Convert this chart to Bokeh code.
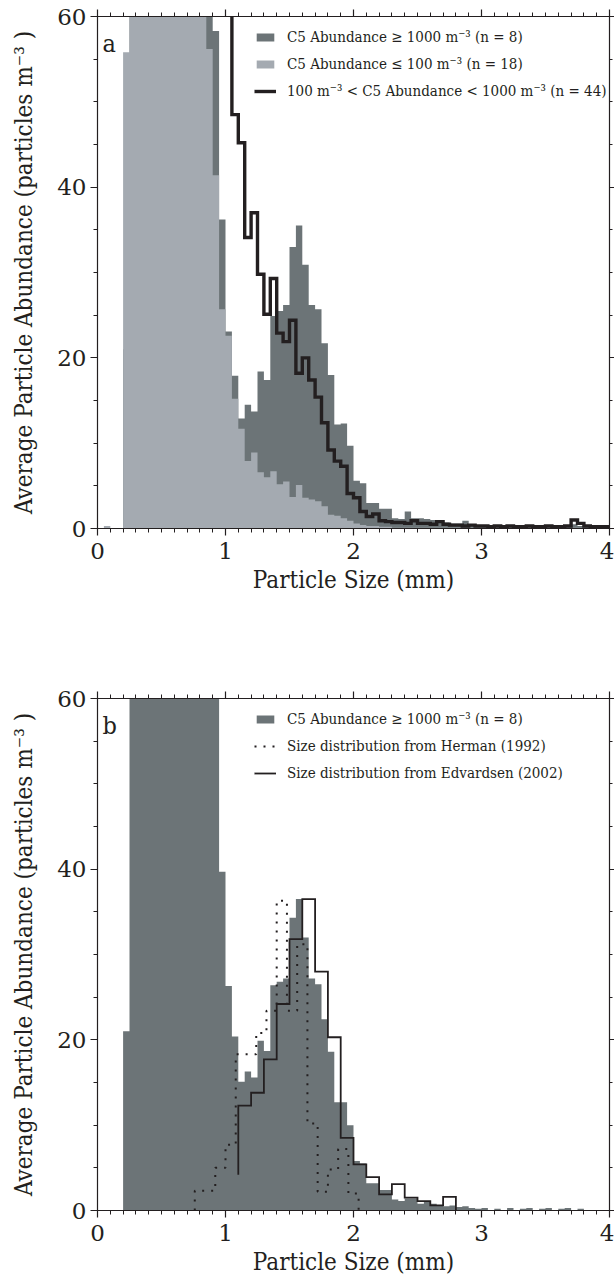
import numpy as np
from bokeh.plotting import figure
from bokeh.models import Range1d, LinearAxis, SingleIntervalTicker, Legend, LegendItem, Label
from bokeh.layouts import column
from bokeh.embed import file_html
from bokeh.resources import INLINE

# ---------------- data ----------------
bin_left = np.round(np.arange(0.0, 4.0, 0.05), 2)   # 80 size classes, 0.05 mm wide
bin_width = 0.05

# panel a : C5 >= 1000 (dark), C5 <= 100 (light), 100 < C5 < 1000 (black step line)
dark_a = [0, 0, 0, 0, 21, 80, 105, 120, 128, 130, 126, 118, 108, 98, 88, 80, 72, 64,
          58.3, 36.2, 23.1, 17.9, 12.9, 14.5, 13.7, 18.4, 17.4, 24.9, 25.5, 26.2,
          33.0, 35.5, 30.9, 26.2, 25.7, 21.7, 18.0, 12.2, 12.3, 9.7,
          5.6, 5.3, 3.0, 3.0, 2.3, 2.3, 1.2, 1.1, 2.0, 1.2,
          1.2, 1.1, 1.0, 1.0, 0.7, 0.6, 0.6, 0.9, 0.4, 0.4,
          0.3, 0.3, 0.2, 0.3, 0.2, 0.2, 0.3, 0.2, 0.2, 0.2,
          0.3, 0.2, 0.2, 0.2, 0.5, 0.3, 0.2, 0.2, 0.1, 0.1]
light_a = [0, 0.3, 0, 0, 55.8, 68, 80, 90, 96, 98, 97, 94, 90, 85, 80, 74, 66, 56.2,
           41.4, 25.7, 22.6, 15.2, 11.7, 7.9, 8.9, 6.6, 6.0, 6.7, 5.2, 5.5,
           3.7, 5.1, 3.6, 3.4, 3.2, 2.6, 1.6, 1.5, 1.2, 0.9,
           0.6, 0.4, 0.3, 0.3, 0.2, 0.2, 0.1, 0.1, 0.1, 0.1,
           0.1, 0.1, 0.1, 0.1, 0.1, 0.1, 0.1, 0.1, 0.1, 0.1,
           0.1, 0.1, 0.1, 0.1, 0.1, 0.1, 0.1, 0.1, 0.1, 0.1,
           0.1, 0.1, 0.1, 0.1, 0.1, 0.1, 0.1, 0.1, 0.1, 0.1]
nan = float("nan")
mid_a = [nan, nan, nan, nan, 70, 85, 100, 110, 115, 118, 116, 112, 106, 100, 94, 88, 82, 76,
         71, 67, 63, 48.5, 45.2, 34.1, 37.0, 29.8, 25.1, 29.3, 22.9, 21.9,
         24.4, 18.2, 20.0, 17.4, 15.4, 12.4, 9.2, 7.9, 7.3, 4.1,
         3.6, 2.0, 1.4, 1.7, 0.9, 0.8, 0.7, 0.7, 0.6, 0.9,
         0.6, 0.6, 0.5, 0.8, 0.5, 0.4, 0.4, 0.3, 0.4, 0.3,
         0.3, 0.2, 0.3, 0.2, 0.3, 0.2, 0.2, 0.3, 0.2, 0.2,
         0.3, 0.2, 0.2, 0.3, 1.0, 0.6, 0.3, 0.2, 0.2, 0.2]

# panel b : C5 >= 1000 (dark) and two published size distributions
dark_b = [0, 0, 0, 0, 21.0, 75, 100, 115, 122, 124, 120, 112, 104, 95, 86, 78, 71, 66,
          62, 39.7, 26.3, 20.4, 15.1, 16.3, 15.6, 19.9, 18.7, 26.4, 26.8, 27.2,
          34.3, 36.5, 32.0, 27.2, 26.5, 22.4, 18.6, 12.7, 12.7, 10.0,
          5.8, 5.5, 3.2, 3.2, 2.4, 2.4, 1.3, 1.1, 1.4, 1.4,
          0.8, 1.0, 0.8, 0.6, 0.5, 0.6, 0.4, 0.5, 0.3, 0.2,
          0.3, 0, 0.2, 0, 0.3, 0, 0.2, 0.3, 0, 0.2,
          0.3, 0, 0.2, 0.3, 0, 0.2, 0, 0, 0, 0]
herman_edges = [0.76, 0.84, 0.92, 1.00, 1.08, 1.16, 1.24, 1.32, 1.40, 1.48, 1.56,
                1.64, 1.72, 1.80, 1.88, 1.96, 2.04]
herman_vals = [2.3, 2.3, 5.0, 7.7, 18.3, 18.3, 20.8, 23.4, 36.3, 23.4, 31.2,
               10.2, 2.2, 4.8, 7.2, 2.0]
edv_edges = [1.1, 1.2, 1.3, 1.4, 1.5, 1.6, 1.7, 1.8, 1.9, 2.0, 2.1, 2.2, 2.3,
             2.4, 2.5, 2.6, 2.7, 2.8]
edv_start = 4.2
edv_vals = [12.3, 13.8, 17.7, 24.2, 31.8, 36.5, 28.0, 20.3, 8.5, 5.4, 3.9, 1.9,
            3.1, 1.5, 1.1, 0.6, 1.6]

x_major = 1
y_major = 20

# ---------------- style ----------------
FONT_TICK = "DejaVu Serif"
FONT_TEXT = "DejaVu Serif Condensed"
INK = "#231f20"
DARK = "#6c7477"
LIGHT = "#a4aab1"


def step_path(edges, vals, start=nan, end=nan):
    xs, ys = [], []
    prev = start
    for e, v in zip(edges, vals):
        xs += [e, e]
        ys += [prev, v]
        prev = v
    xs += [edges[len(vals)], edges[len(vals)]]
    ys += [prev, end]
    return xs, ys


def style_axis(ax, labels=True):
    ax.axis_line_color = INK
    ax.axis_line_width = 1.2
    ax.major_tick_line_color = INK
    ax.major_tick_line_width = 1.2
    ax.minor_tick_line_color = INK
    ax.minor_tick_line_width = 1.0
    ax.major_tick_in = 0
    ax.minor_tick_in = 0
    ax.major_tick_out = 7
    ax.minor_tick_out = 4
    ax.major_label_text_font = FONT_TICK
    ax.major_label_text_color = INK
    ax.axis_label_text_font = FONT_TEXT
    ax.axis_label_text_font_style = "normal"
    ax.axis_label_text_color = INK
    if not labels:
        ax.major_label_text_font_size = "1px"
        ax.major_label_text_color = None
        ax.major_label_standoff = 0


def make_fig(height, top_border, bottom):
    xt = SingleIntervalTicker(interval=x_major, num_minor_ticks=10)
    yt = SingleIntervalTicker(interval=y_major, num_minor_ticks=4)
    p = figure(width=614, height=height, x_range=Range1d(0, 4), y_range=Range1d(0, 60),
               output_backend="svg", toolbar_location=None,
               min_border_left=97, min_border_right=5, min_border_top=top_border,
               min_border_bottom=bottom)
    p.grid.visible = False
    p.outline_line_color = None
    p.background_fill_color = "white"
    p.border_fill_color = "white"
    p.xaxis.ticker = xt
    p.yaxis.ticker = yt
    for ax in p.xaxis + p.yaxis:
        style_axis(ax)
    p.xaxis.major_label_text_font_size = "23px"
    p.yaxis.major_label_text_font_size = "23px"
    p.xaxis.major_label_standoff = 7
    p.yaxis.major_label_standoff = 4
    p.xaxis.axis_label = "Particle Size (mm)"
    p.yaxis.axis_label = "Average Particle Abundance (particles m\u207b\u00b3 )"
    p.xaxis.axis_label_text_font_size = "24px"
    p.yaxis.axis_label_text_font_size = "24px"
    p.xaxis.axis_label_standoff = 4
    p.yaxis.axis_label_standoff = 16
    top = LinearAxis(ticker=xt)
    style_axis(top, labels=False)
    p.add_layout(top, "above")
    right = LinearAxis(ticker=yt)
    style_axis(right, labels=False)
    right.major_tick_out = 5
    right.minor_tick_out = 3
    p.add_layout(right, "right")
    return p


def make_legend(items):
    return Legend(items=items, location=(157, 427), orientation="vertical",
                  padding=0, spacing=7, margin=0, glyph_width=22, glyph_height=10,
                  label_height=20, label_standoff=11,
                  label_text_font=FONT_TEXT, label_text_font_size="15px", label_text_color=INK,
                  border_line_color=None, background_fill_alpha=0)


all_edges = list(bin_left) + [4.0]

# ---------------- panel a ----------------
pa = make_fig(674, 16, 146)
dx, dy = step_path(all_edges, dark_a, start=0, end=0)
r_dark = pa.patch(dx, dy, fill_color=DARK, line_color=None)
lx, ly = step_path(all_edges, light_a, start=0, end=0)
r_light = pa.patch(lx, ly, fill_color=LIGHT, line_color=None)
mx, my = step_path(all_edges, mid_a)
r_mid = pa.line(mx, my, line_color=INK, line_width=3.4, line_join="miter")
pa.add_layout(make_legend([
    LegendItem(label="C5 Abundance \u2265 1000 m\u207b\u00b3 (n = 8)", renderers=[r_dark]),
    LegendItem(label="C5 Abundance \u2264 100 m\u207b\u00b3 (n = 18)", renderers=[r_light]),
    LegendItem(label="100 m\u207b\u00b3 < C5 Abundance < 1000 m\u207b\u00b3 (n = 44)", renderers=[r_mid]),
]))
pa.add_layout(Label(x=5, y=485, x_units="screen", y_units="screen", text="a",
                    text_font=FONT_TEXT, text_font_size="25px", text_color=INK,
                    text_baseline="alphabetic"))

# ---------------- panel b ----------------
pb = make_fig(610, 24, 74)
bx, by = step_path(all_edges, dark_b, start=0, end=0)
r_dark_b = pb.patch(bx, by, fill_color=DARK, line_color=None)
hx, hy = step_path(herman_edges, herman_vals, start=0, end=0)
r_her = pb.line(hx, hy, line_color=INK, line_width=2, line_dash="2 7")
ex, ey = step_path(edv_edges, edv_vals, start=edv_start, end=0)
r_edv = pb.line(ex, ey, line_color=INK, line_width=1.8, line_join="miter")
pb.add_layout(make_legend([
    LegendItem(label="C5 Abundance \u2265 1000 m\u207b\u00b3 (n = 8)", renderers=[r_dark_b]),
    LegendItem(label="Size distribution from Herman (1992)", renderers=[r_her]),
    LegendItem(label="Size distribution from Edvardsen (2002)", renderers=[r_edv]),
]))
pb.add_layout(Label(x=5, y=485, x_units="screen", y_units="screen", text="b",
                    text_font=FONT_TEXT, text_font_size="25px", text_color=INK,
                    text_baseline="alphabetic"))

layout = column(pa, pb, spacing=0)
open("out.html", "w").write(file_html(layout, INLINE))
